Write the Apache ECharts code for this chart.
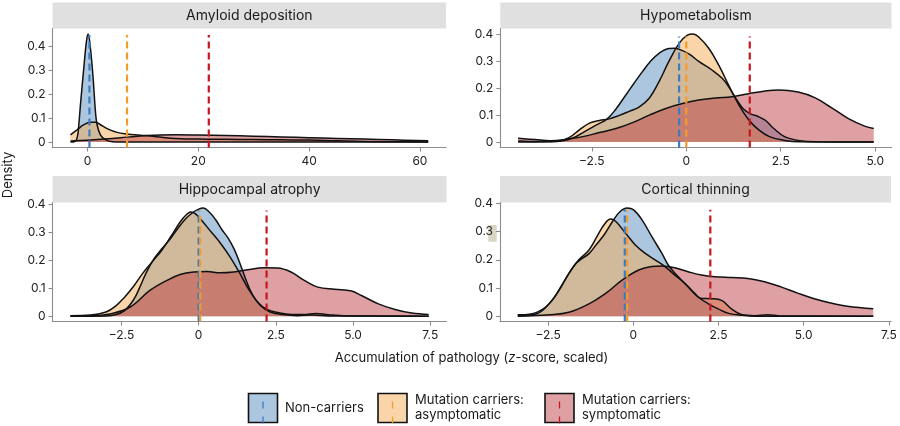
<!DOCTYPE html>
<html><head><meta charset="utf-8">
<script src="https://cdn.jsdelivr.net/npm/echarts@6/dist/echarts.min.js"></script>
<style>html,body{margin:0;padding:0;background:#fff}#c{width:900px;height:426px}</style>
</head><body><div id="c"></div>
<script>
// ---------- DATA ----------
const groupNames = ['Non-carriers', 'Mutation carriers:\nasymptomatic', 'Mutation carriers:\nsymptomatic'];
const panelTitles = ['Amyloid deposition', 'Hypometabolism', 'Hippocampal atrophy', 'Cortical thinning'];

const amyloidNon = [[-3.06,0],[-2.3,0.002],[-1.86,0.017],[-1.56,0.072],[-1.26,0.156],[-0.66,0.308],[-0.18,0.419],[0.12,0.45],[0.54,0.39],[1.02,0.267],[1.44,0.128],[1.74,0.072],[2.34,0.03],[3.24,0.01],[4.5,0.001],[6,0],[61.5,0]];
const amyloidAsym = [[-3.06,0.03],[-1.86,0.051],[-0.66,0.072],[0.54,0.082],[1.44,0.082],[2.34,0.072],[3.54,0.056],[5.35,0.04],[7.15,0.033],[9,0.029],[11.4,0.025],[15,0.016],[20,0.012],[25,0.011],[30,0.01],[35,0.009],[40,0.008],[45,0.005],[50,0.002],[55,0.001],[61.5,0]];
const amyloidSym = [[-3.06,0.004],[0,0.007],[3,0.012],[6,0.018],[9,0.024],[12,0.028],[16,0.03],[20,0.029],[25,0.027],[30,0.024],[35,0.021],[40,0.018],[45,0.015],[50,0.012],[55,0.009],[61.5,0.005]];
const amyloidMeans = [0.36, 7.15, 21.9];
const amyloidMeanTop = 0.446;

const hypoNon = [[-4.45,0],[-3.6,0.001],[-3.3,0.004],[-3.0,0.015],[-2.7,0.038],[-2.4,0.062],[-2.1,0.085],[-1.85,0.125],[-1.6,0.175],[-1.4,0.215],[-1.16,0.262],[-0.95,0.3],[-0.72,0.33],[-0.46,0.348],[-0.3,0.349],[-0.1,0.34],[0.1,0.325],[0.33,0.3],[0.68,0.268],[0.95,0.237],[1.12,0.206],[1.3,0.165],[1.5,0.125],[1.7,0.105],[1.9,0.095],[2.1,0.08],[2.3,0.052],[2.6,0.02],[3.0,0.005],[3.5,0.001],[4.96,0]];
const hypoAsym = [[-4.45,0.004],[-3.9,0.002],[-3.35,0.004],[-3.09,0.017],[-2.82,0.046],[-2.56,0.07],[-2.3,0.08],[-2.04,0.086],[-1.77,0.099],[-1.51,0.114],[-1.25,0.13],[-0.98,0.163],[-0.72,0.225],[-0.46,0.3],[-0.19,0.367],[0.03,0.398],[0.18,0.402],[0.33,0.391],[0.6,0.348],[0.86,0.286],[1.12,0.212],[1.39,0.138],[1.65,0.083],[1.91,0.046],[2.2,0.02],[2.6,0.006],[3.0,0.001],[4.96,0]];
const hypoSym = [[-4.45,0.014],[-4.0,0.009],[-3.6,0.005],[-3.18,0.01],[-2.74,0.02],[-2.3,0.035],[-1.86,0.05],[-1.42,0.072],[-0.98,0.1],[-0.54,0.125],[-0.1,0.143],[0.33,0.156],[0.77,0.164],[1.21,0.168],[1.65,0.18],[2.09,0.19],[2.44,0.194],[2.96,0.186],[3.4,0.165],[3.84,0.128],[4.28,0.088],[4.72,0.059],[4.96,0.05]];
const hypoMeans = [-0.19, 0.0, 1.68];
const hypoMeanTop = 0.393;

const hippoNon = [[-4.15,0],[-3.0,0.001],[-2.7,0.005],[-2.4,0.02],[-2.1,0.06],[-1.9,0.105],[-1.7,0.155],[-1.45,0.205],[-1.2,0.24],[-0.95,0.272],[-0.7,0.31],[-0.45,0.345],[-0.2,0.37],[0.0,0.383],[0.15,0.387],[0.35,0.372],[0.55,0.345],[0.75,0.31],[0.95,0.28],[1.15,0.24],[1.35,0.185],[1.55,0.125],[1.75,0.075],[2.0,0.038],[2.3,0.016],[2.7,0.006],[3.2,0.002],[3.7,0.004],[4.2,0.001],[7.45,0]];
const hippoAsym = [[-4.15,0.002],[-3.5,0.004],[-3.0,0.015],[-2.7,0.035],[-2.4,0.068],[-2.1,0.108],[-1.8,0.155],[-1.5,0.195],[-1.2,0.235],[-0.9,0.285],[-0.6,0.337],[-0.4,0.363],[-0.25,0.373],[-0.1,0.366],[0.1,0.342],[0.4,0.302],[0.7,0.262],[1.0,0.215],[1.3,0.16],[1.6,0.1],[1.9,0.052],[2.2,0.025],[2.6,0.012],[3.0,0.006],[3.4,0.006],[3.8,0.01],[4.2,0.005],[4.8,0.001],[7.45,0]];
const hippoSym = [[-4.15,0.001],[-3.4,0.002],[-2.88,0.008],[-2.23,0.032],[-1.58,0.092],[-1.03,0.128],[-0.6,0.149],[-0.16,0.158],[0.27,0.16],[0.7,0.155],[1.14,0.158],[1.58,0.166],[2.12,0.173],[2.55,0.172],[2.99,0.158],[3.42,0.128],[3.86,0.104],[4.4,0.096],[4.95,0.09],[5.27,0.074],[5.82,0.044],[6.36,0.024],[6.9,0.011],[7.45,0.006]];
const hippoMeans = [0.0, 0.05, 2.2];
const hippoMeanTop = 0.378;

const cortNon = [[-3.39,0.005],[-3.0,0.008],[-2.6,0.03],[-2.3,0.07],[-2.0,0.13],[-1.7,0.185],[-1.5,0.205],[-1.3,0.222],[-1.1,0.252],[-0.85,0.29],[-0.6,0.338],[-0.4,0.37],[-0.18,0.384],[0.0,0.378],[0.25,0.343],[0.54,0.283],[0.84,0.223],[1.03,0.181],[1.32,0.14],[1.61,0.104],[1.9,0.068],[2.2,0.044],[2.49,0.026],[2.8,0.01],[3.2,0.003],[3.6,0],[7.04,0]];
const cortAsym = [[-3.39,0.003],[-2.86,0.008],[-2.47,0.044],[-2.18,0.092],[-1.89,0.152],[-1.6,0.2],[-1.3,0.235],[-1.01,0.295],[-0.82,0.331],[-0.67,0.345],[-0.52,0.337],[-0.23,0.295],[0.06,0.253],[0.35,0.223],[0.64,0.2],[0.93,0.176],[1.22,0.146],[1.52,0.116],[1.81,0.08],[2.0,0.063],[2.29,0.062],[2.59,0.056],[2.88,0.026],[3.17,0.006],[3.56,0.002],[3.95,0.005],[4.33,0.001],[7.04,0]];
const cortSym = [[-3.39,0],[-2.47,0.005],[-1.89,0.014],[-1.3,0.044],[-0.82,0.08],[-0.33,0.128],[0.16,0.164],[0.54,0.176],[0.84,0.178],[1.22,0.172],[1.61,0.158],[2.0,0.146],[2.39,0.14],[2.88,0.137],[3.36,0.134],[3.85,0.122],[4.33,0.104],[4.82,0.082],[5.31,0.062],[5.79,0.047],[6.28,0.035],[7.04,0.026]];
const cortMeans = [-0.25, -0.18, 2.26];
const cortMeanTop = 0.378;

const yTicks = [0, 0.1, 0.2, 0.3, 0.4];
const yTickLabels = ['0', '0.1', '0.2', '0.3', '0.4'];
const amyloidXTicks = [0, 20, 40, 60];
const amyloidXTickLabels = ['0', '20', '40', '60'];
const hypoXTicks = [-2.5, 0, 2.5, 5];
const hypoXTickLabels = ['\u22122.5', '0', '2.5', '5.0'];
const zXTicks = [-2.5, 0, 2.5, 5, 7.5];
const zXTickLabels = ['\u22122.5', '0', '2.5', '5.0', '7.5'];

// ---------- STYLE / LAYOUT ----------
const FONT = 'Inter, "Noto Sans", Roboto, sans-serif';
const fillColors = ['rgba(91,142,194,0.5)', 'rgba(245,171,85,0.5)', 'rgba(191,65,71,0.5)'];
const meanColors = ['#3b7cc0', '#f59b2b', '#c4161c'];
const axisGrey = '#8c8c8c';
const grids = [
  {left: 52.6, top: 28.6, width: 393.5, height: 118.8},
  {left: 500.3, top: 28.6, width: 391.2, height: 118.8},
  {left: 52.6, top: 202.6, width: 394, height: 119},
  {left: 500, top: 202.6, width: 391, height: 119}
];
const strips = [{y: 2.5, h: 26}, {y: 2.5, h: 26}, {y: 176, h: 26.6}, {y: 176, h: 26.6}];

const panels = [
  {curves: [amyloidNon, amyloidAsym, amyloidSym], means: amyloidMeans, top: amyloidMeanTop, xt: amyloidXTicks, xl: amyloidXTickLabels},
  {curves: [hypoNon, hypoAsym, hypoSym], means: hypoMeans, top: hypoMeanTop, xt: hypoXTicks, xl: hypoXTickLabels},
  {curves: [hippoNon, hippoAsym, hippoSym], means: hippoMeans, top: hippoMeanTop, xt: zXTicks, xl: zXTickLabels},
  {curves: [cortNon, cortAsym, cortSym], means: cortMeans, top: cortMeanTop, xt: zXTicks, xl: zXTickLabels}
];

const xAxes = [], yAxes = [], series = [], graphics = [];
panels.forEach((p, i) => {
  const all = p.curves.flat();
  const xs = all.map(d => d[0]);
  const ys = all.map(d => d[1]);
  const x0 = Math.min(...xs), x1 = Math.max(...xs);
  const dx = (x1 - x0) * 0.05;
  const y1 = Math.max(...ys);
  const dy = y1 * 0.05;
  const ymin = -dy;
  const lab = (ticks, labels) => v => {
    const k = ticks.findIndex(t => Math.abs(t - v) < 1e-9);
    return k >= 0 ? labels[k] : '';
  };
  xAxes.push({
    gridIndex: i, type: 'value', min: x0 - dx, max: x1 + dx,
    axisLine: {show: true, onZero: false, lineStyle: {color: axisGrey, width: 1.1}},
    axisTick: {show: true, length: 4, customValues: p.xt, lineStyle: {color: axisGrey, width: 1.1}},
    axisLabel: {customValues: p.xt, formatter: lab(p.xt, p.xl), margin: 8, color: '#222', fontSize: 12, fontFamily: FONT},
    splitLine: {show: false}
  });
  yAxes.push({
    gridIndex: i, type: 'value', min: ymin, max: y1 + dy,
    axisLine: {show: true, onZero: false, lineStyle: {color: axisGrey, width: 1.1}},
    axisTick: {show: true, length: 4, customValues: yTicks, lineStyle: {color: axisGrey, width: 1.1}},
    axisLabel: {customValues: yTicks, formatter: lab(yTicks, yTickLabels), margin: 7, color: '#222', fontSize: 12, fontFamily: FONT},
    splitLine: {show: false}
  });
  p.curves.forEach((c, g) => {
    series.push({
      type: 'line', xAxisIndex: i, yAxisIndex: i, data: c, symbol: 'none', showSymbol: false,
      smooth: 0.4, silent: true, z: 2,
      lineStyle: {color: '#111', width: 1.5},
      areaStyle: {color: fillColors[g], opacity: 1, origin: 'auto'}
    });
  });
  p.means.forEach((m, g) => {
    series.push({
      type: 'line', xAxisIndex: i, yAxisIndex: i, data: [[m, ymin], [m, p.top]], symbol: 'none',
      silent: true, z: 5,
      lineStyle: {color: meanColors[g], width: 2.2, type: [7, 4]}
    });
  });
  const gr = grids[i], st = strips[i];
  graphics.push({type: 'rect', shape: {x: gr.left, y: st.y, width: gr.width, height: st.h}, style: {fill: '#e0e0e0'}, silent: true});
  graphics.push({type: 'text', x: gr.left + gr.width / 2, y: st.y + st.h / 2 + 0.5,
    style: {text: panelTitles[i], textAlign: 'center', textVerticalAlign: 'middle', fill: '#1a1a1a', fontSize: 14, fontFamily: FONT}, silent: true});
});

// small beige patch present in the reference (panel 4 y labels)
graphics.push({type: 'rect', z: -1, shape: {x: 488.3, y: 225, width: 8.4, height: 16.7}, style: {fill: '#d8d5c2'}, silent: true});

// axis titles
graphics.push({type: 'text', x: 471.5, y: 358,
  style: {text: '{a|Accumulation of pathology (}{i|z}{a|-score, scaled)}', textAlign: 'center', textVerticalAlign: 'middle',
    rich: {a: {fontSize: 13, fontFamily: FONT, fill: '#1a1a1a'}, i: {fontSize: 13, fontFamily: FONT, fontStyle: 'italic', fill: '#1a1a1a'}}}, silent: true});
graphics.push({type: 'text', x: 8, y: 175, rotation: Math.PI / 2,
  style: {text: 'Density', textAlign: 'center', textVerticalAlign: 'middle', fill: '#1a1a1a', fontSize: 13, fontFamily: FONT}, silent: true});

// legend
const legendKeys = [{x: 248.5, tx: 285}, {x: 378, tx: 415}, {x: 545, tx: 582}];
legendKeys.forEach((k, g) => {
  graphics.push({type: 'rect', shape: {x: k.x, y: 393.5, width: 29, height: 29}, style: {fill: fillColors[g], stroke: '#111', lineWidth: 1.6}, silent: true});
  graphics.push({type: 'line', shape: {x1: k.x + 14.5, y1: 401.5, x2: k.x + 14.5, y2: 426}, style: {stroke: meanColors[g], lineWidth: 1.3, lineDash: [7, 8]}, silent: true});
  graphics.push({type: 'text', x: k.tx, y: 408,
    style: {text: groupNames[g], textAlign: 'left', textVerticalAlign: 'middle', fill: '#1a1a1a', fontSize: 13, lineHeight: 15, fontFamily: FONT}, silent: true});
});

const chart = echarts.init(document.getElementById('c'), null, {renderer: 'canvas'});
chart.setOption({
  animation: false,
  backgroundColor: '#fff',
  grid: grids.map(g => Object.assign({containLabel: false}, g)),
  xAxis: xAxes,
  yAxis: yAxes,
  series: series,
  graphic: {elements: graphics}
});
</script>
</body></html>
